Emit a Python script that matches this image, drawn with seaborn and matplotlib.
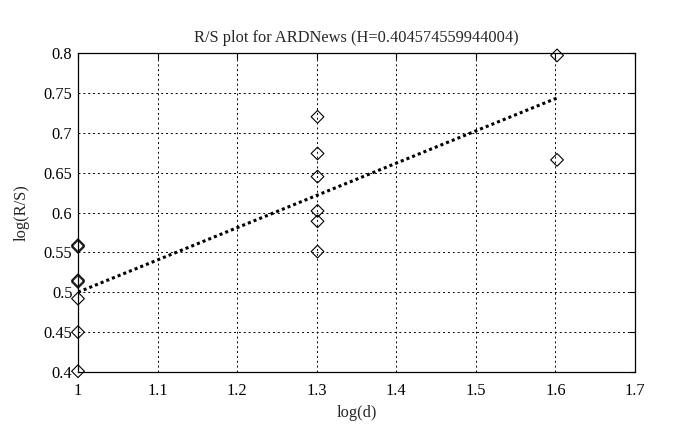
import numpy as np
import pandas as pd
import seaborn as sns
import matplotlib.pyplot as plt

# R/S values, grouped by log(d)
log_d_1 = [1.0] * 7
rs_1 = [0.559, 0.557, 0.515, 0.513, 0.492, 0.450, 0.401]
log_d_2 = [1.301] * 6
rs_2 = [0.720, 0.674, 0.645, 0.602, 0.589, 0.551]
log_d_3 = [1.602] * 2
rs_3 = [0.797, 0.666]

hurst = 0.404574559944004
fit_intercept = 0.0955

x_ticks = [1, 1.1, 1.2, 1.3, 1.4, 1.5, 1.6, 1.7]
y_ticks = [0.4, 0.45, 0.5, 0.55, 0.6, 0.65, 0.7, 0.75, 0.8]

df = pd.DataFrame({
    "log_d": log_d_1 + log_d_2 + log_d_3,
    "log_rs": rs_1 + rs_2 + rs_3,
})

fit = pd.DataFrame({"log_d": [df["log_d"].min(), df["log_d"].max()]})
fit["log_rs"] = fit_intercept + hurst * fit["log_d"]

sns.set_style("white")
plt.rcParams["font.family"] = ["Liberation Serif", "DejaVu Serif"]
fs = 11.8

fig = plt.figure(figsize=(6.86, 4.30), dpi=100)
ax = fig.add_axes([0.1137, 0.1349, 0.8120, 0.7418])

sns.scatterplot(data=df, x="log_d", y="log_rs", marker="D", s=42,
                facecolors="none", edgecolor="black", linewidth=0.8,
                ax=ax, zorder=3, clip_on=False)
sns.lineplot(data=fit, x="log_d", y="log_rs", color="black",
             linestyle=(0, (1, 1)), linewidth=2.2, ax=ax, zorder=2)

ax.set_xlim(1, 1.7)
ax.set_ylim(0.4, 0.8)
ax.set_xticks(x_ticks)
ax.set_xticklabels([f"{t:g}" for t in x_ticks])
ax.set_yticks(y_ticks)
ax.set_yticklabels([f"{t:g}" for t in y_ticks])
ax.grid(True, color="black", linestyle=(0, (2, 3)), linewidth=0.7)
ax.tick_params(direction="in", top=True, right=True, length=4,
               width=0.8, colors="black", labelsize=fs)
ax.tick_params(axis="x", pad=8)
ax.tick_params(axis="y", pad=4)
for sp in ax.spines.values():
    sp.set_color("black")
    sp.set_linewidth(0.9)

ax.set_title("R/S plot for ARDNews (H=0.404574559944004)", fontsize=fs, pad=8)
ax.set_xlabel("log(d)", fontsize=fs, labelpad=4)
ax.set_ylabel("log(R/S)", fontsize=fs, labelpad=10)

fig.savefig("out.png", dpi=100)
